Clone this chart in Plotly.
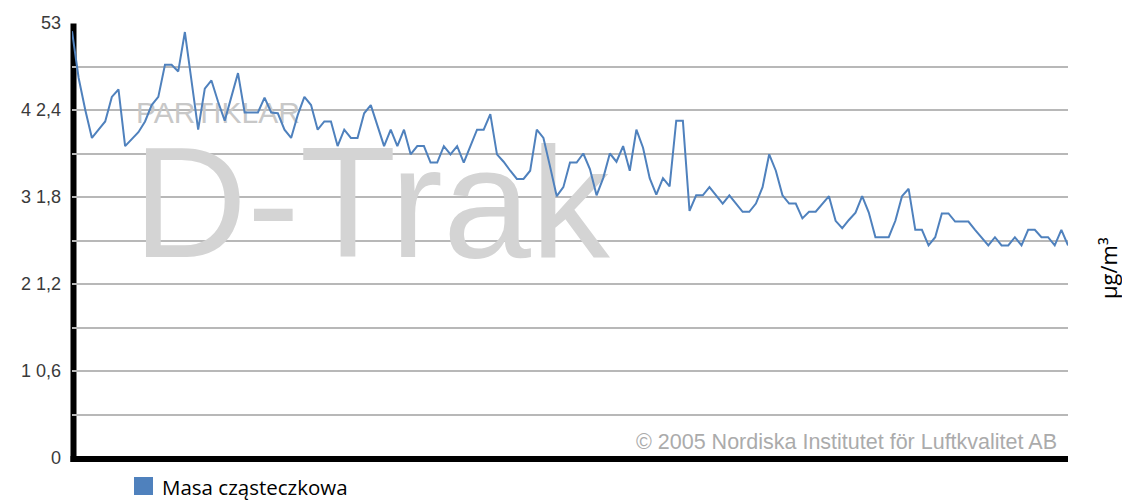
import plotly.graph_objects as go

# ---- data ----
values = [
    52.0, 46.3, 42.4, 39.0, 40.0, 41.0, 44.0, 44.9, 38.0, 38.8,
    39.7, 41.0, 43.0, 44.0, 47.9, 47.9, 47.1, 51.9, 45.9, 40.0,
    45.0, 46.0, 43.4, 41.1, 44.0, 46.9, 42.1, 42.1, 42.1, 43.9,
    42.1, 42.0, 40.0, 39.0, 41.8, 44.0, 43.0, 40.0, 41.0, 41.0,
    38.0, 40.0, 39.0, 39.0, 42.0, 43.0, 40.4, 38.0, 40.0, 38.0,
    40.0, 37.0, 38.0, 38.0, 36.0, 36.0, 38.0, 37.0, 38.0, 36.0,
    38.0, 40.0, 40.0, 41.9, 37.0, 36.1, 35.0, 34.0, 34.0, 35.0,
    40.0, 39.0, 35.5, 31.9, 33.0, 36.0, 36.0, 37.1, 35.2, 32.0,
    34.1, 37.1, 36.1, 38.0, 35.0, 40.0, 37.8, 34.1, 32.1, 34.1,
    33.1, 41.1, 41.1, 30.1, 32.0, 32.0, 33.0, 32.0, 31.0, 32.0,
    31.0, 30.0, 30.0, 31.0, 33.0, 37.0, 35.0, 32.0, 31.0, 31.0,
    29.2, 30.0, 30.0, 31.0, 31.9, 28.9, 28.0, 29.0, 29.9, 31.9,
    29.9, 26.9, 26.9, 26.9, 28.9, 31.9, 32.8, 27.8, 27.8, 25.9,
    26.9, 29.8, 29.8, 28.8, 28.8, 28.8, 27.8, 26.9, 25.9, 26.9,
    25.9, 25.9, 26.9, 25.9, 27.8, 27.8, 26.9, 26.9, 25.9, 27.8,
    25.9,
]
x_index = list(range(len(values)))

tick_values = [0, 5.3, 10.6, 15.9, 21.2, 26.5, 31.8, 37.1, 42.4, 47.7, 53]
tick_labels = ["0", "", "1 0,6", "", "2 1,2", "", "3 1,8", "", "4 2,4", "", "53"]

series_name = "Masa cząsteczkowa"
unit_label = "μg/m³"
watermark_big = "D-Trak"
watermark_small = "PARTIKLAR"
copyright_text = "© 2005 Nordiska Institutet för Luftkvalitet AB"

LINE_COLOR = "#4f81bd"

# the page body has an 8px margin; build the figure in page coordinates minus 8
OFF = 8
W, H = 1130 - OFF, 500 - OFF
PLOT_LEFT, PLOT_RIGHT, PLOT_TOP, PLOT_BOTTOM = 72, 1068, 23, 458  # page px
L = PLOT_LEFT - OFF
T = PLOT_TOP - OFF
R = W - (PLOT_RIGHT - OFF)
B = H - (PLOT_BOTTOM - OFF)
PW, PH = W - L - R, H - T - B
XMAX = len(values) - 1


def px_to_data_x(px):
    return (px - PLOT_LEFT) / PW * XMAX


def py_to_data_y(py):
    return (PLOT_BOTTOM - py) / PH * 53


def px_to_paper(px):
    return (px - PLOT_LEFT) / PW


def py_to_paper(py):
    return (PLOT_BOTTOM - py) / PH


fig = go.Figure()

# watermark texts (drawn under the series line)
fig.add_trace(go.Scatter(
    x=[px_to_data_x(133)], y=[py_to_data_y(217)], mode="text",
    text=[watermark_big], textposition="middle right",
    textfont=dict(family="Liberation Sans, Arial", size=158, color="#d4d4d4"),
    hoverinfo="skip", showlegend=False, cliponaxis=False,
))
fig.add_trace(go.Scatter(
    x=[px_to_data_x(136)], y=[py_to_data_y(115)], mode="text",
    text=[watermark_small], textposition="middle right",
    textfont=dict(family="Liberation Sans, Arial", size=30, color="#c8c8c8"),
    hoverinfo="skip", showlegend=False, cliponaxis=False,
))

fig.add_trace(go.Scatter(
    x=x_index, y=values, mode="lines", name=series_name,
    line=dict(color=LINE_COLOR, width=2), showlegend=False,
))

fig.update_layout(
    width=W, height=H,
    margin=dict(l=L, r=R, t=T, b=B, autoexpand=False),
    paper_bgcolor="white", plot_bgcolor="white",
    showlegend=False,
    xaxis=dict(range=[0, XMAX], showgrid=False, zeroline=False,
               showticklabels=False, showline=False, ticks=""),
    yaxis=dict(range=[0, 53], tickvals=tick_values, ticktext=tick_labels,
               showgrid=True, gridcolor="#b8b8b8", gridwidth=1.5,
               zeroline=False, showline=False, ticks="",
               ticklabelstandoff=10, automargin=False,
               tickfont=dict(family="Liberation Sans, Arial", size=18, color="#3a3a3a")),
    shapes=[
        dict(type="line", xref="paper", yref="paper", layer="between",
             x0=px_to_paper(73.5), x1=px_to_paper(73.5),
             y0=py_to_paper(23.5), y1=py_to_paper(462),
             line=dict(color="black", width=6)),
        dict(type="line", xref="paper", yref="paper", layer="between",
             x0=px_to_paper(70.5), x1=px_to_paper(1068),
             y0=py_to_paper(459), y1=py_to_paper(459),
             line=dict(color="black", width=6)),
        dict(type="rect", xref="paper", yref="paper",
             x0=px_to_paper(134), x1=px_to_paper(153),
             y0=py_to_paper(477), y1=py_to_paper(495),
             fillcolor=LINE_COLOR, line=dict(width=0)),
    ],
    annotations=[
        dict(text=series_name, xref="paper", yref="paper",
             x=px_to_paper(160), y=py_to_paper(487),
             xanchor="left", yanchor="middle", showarrow=False,
             font=dict(family="Open Sans", size=20.5, color="black")),
        dict(text=unit_label, xref="paper", yref="paper",
             x=px_to_paper(1108), y=py_to_paper(268), textangle=-90,
             xanchor="center", yanchor="middle", showarrow=False,
             font=dict(family="Open Sans", size=22, color="black")),
        dict(text=copyright_text, xref="paper", yref="paper",
             x=px_to_paper(1059), y=py_to_paper(442),
             xanchor="right", yanchor="middle", showarrow=False,
             font=dict(family="Liberation Sans, Arial", size=21.5, color="#ababab")),
    ],
)

fig.write_html("out.html")
